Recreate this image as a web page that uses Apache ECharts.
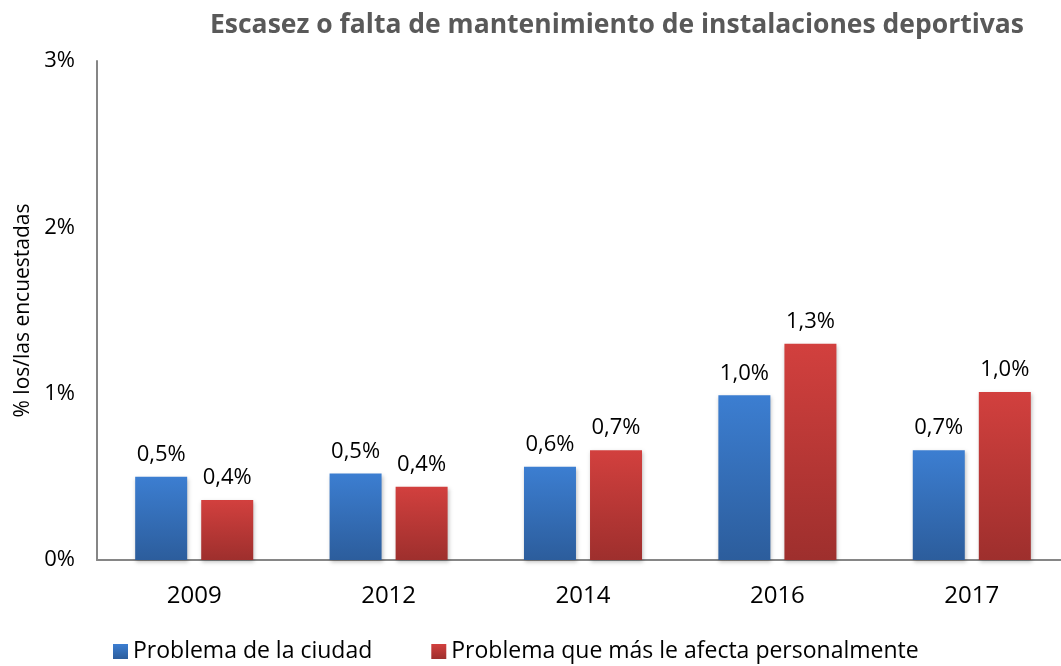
<!DOCTYPE html>
<html>
<head>
<meta charset="utf-8">
<script src="https://cdn.jsdelivr.net/npm/echarts@6/dist/echarts.min.js"></script>
<style>
  html, body { margin: 0; padding: 0; background: #fff; overflow: hidden; }
  /* el eje sigue un poco más allá del borde derecho, como en el original */
  #chart { width: 1069px; height: 666px; }
</style>
</head>
<body>
<div id="chart"></div>
<script>
// años de la encuesta
const years = ['2009', '2012', '2014', '2016', '2017'];
// % problema de la ciudad
const ciudad = [0.50, 0.52, 0.56, 0.99, 0.66];
// % problema que más le afecta personalmente
const personal = [0.36, 0.44, 0.66, 1.30, 1.01];
const yTicks = [0, 1, 2, 3];

const FONT = '"Open Sans", "Noto Sans", sans-serif';
const fmt = v => v.toFixed(1).replace('.', ',') + '%';

const grad = (top, bottom) => new echarts.graphic.LinearGradient(0, 0, 0, 1, [
  { offset: 0, color: top },
  { offset: 1, color: bottom }
]);

const chart = echarts.init(document.getElementById('chart'));

const barLabel = {
  show: true,
  position: 'top',
  distance: 11,
  color: '#000',
  fontFamily: FONT,
  fontSize: 22,
  formatter: p => fmt(p.value)
};

const option = {
  backgroundColor: '#fff',
  animation: false,
  title: {
    text: 'Escasez o falta de mantenimiento de instalaciones deportivas',
    left: 612,
    textAlign: 'center',
    top: 7,
    textStyle: { color: '#595959', fontFamily: FONT, fontSize: 26.5, fontWeight: 'bold' }
  },
  legend: {
    bottom: -2,
    left: 108,
    itemWidth: 15,
    itemHeight: 15,
    itemGap: 59,
    icon: 'rect',
    textStyle: { color: '#000', fontFamily: FONT, fontSize: 23 },
    data: ['Problema de la ciudad', 'Problema que más le afecta personalmente']
  },
  grid: { left: 97, right: 0, top: 61, bottom: 106 },
  xAxis: {
    type: 'category',
    data: years,
    axisLine: { lineStyle: { color: '#868686', width: 2 } },
    axisTick: { show: false },
    axisLabel: { color: '#000', fontFamily: FONT, fontSize: 24, margin: 24 }
  },
  yAxis: {
    type: 'value',
    min: 0,
    max: yTicks[yTicks.length - 1],
    interval: 1,
    name: '% los/las encuestadas',
    nameLocation: 'middle',
    nameGap: 62,
    nameTextStyle: { color: '#000', fontFamily: FONT, fontSize: 21 },
    axisLine: { show: true, lineStyle: { color: '#868686', width: 2 } },
    axisTick: { show: false },
    splitLine: { show: false },
    axisLabel: { color: '#000', fontFamily: FONT, fontSize: 22, margin: 22, formatter: v => v + '%' }
  },
  series: [
    {
      name: 'Problema de la ciudad',
      type: 'bar',
      data: ciudad,
      barWidth: 52,
      barGap: '27%',
      itemStyle: {
        color: grad('#3C7ED1', '#2C5D9C'),
        shadowColor: 'rgba(0,0,0,0.25)', shadowBlur: 4, shadowOffsetX: 1, shadowOffsetY: 2
      },
      label: barLabel
    },
    {
      name: 'Problema que más le afecta personalmente',
      type: 'bar',
      data: personal,
      barWidth: 52,
      barGap: '27%',
      itemStyle: {
        color: grad('#D2403E', '#9E2F2D'),
        shadowColor: 'rgba(0,0,0,0.25)', shadowBlur: 4, shadowOffsetX: 1, shadowOffsetY: 2
      },
      label: barLabel
    }
  ]
};

chart.setOption(option);
</script>
</body>
</html>
